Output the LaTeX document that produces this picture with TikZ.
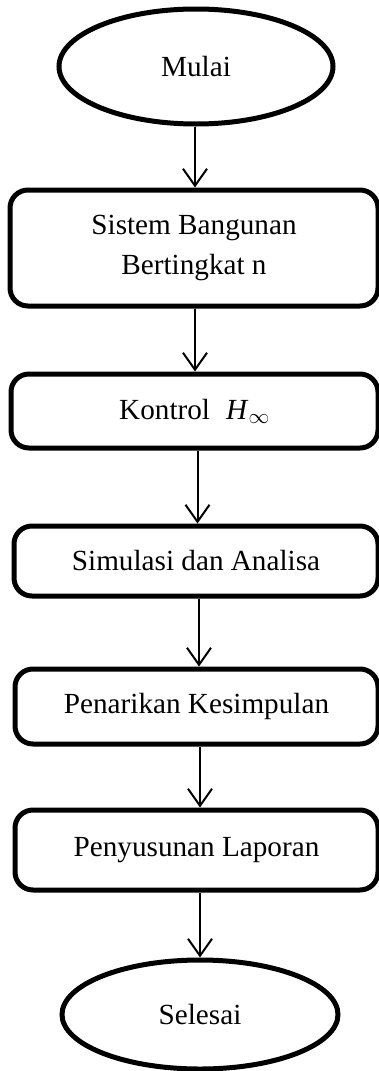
\documentclass[tikz,border=0pt]{standalone}
\usepackage{fontspec}
\setmainfont{Liberation Serif}
\usetikzlibrary{shapes.geometric,arrows.meta}
\begin{document}
\begin{tikzpicture}[x=1pt,y=-1pt,
  base/.style={draw=black,line width=5pt,inner sep=0pt,align=center,
    font=\fontsize{29.2}{40}\selectfont},
  term/.style={base,ellipse},
  proc/.style={base,rectangle,rounded corners=18pt},
  arr/.style={line width=2pt,-{Straight Barb[length=17pt,width=24pt,line width=2pt]}}]
\useasboundingbox (0,0) rectangle (378,1071);
\node[term,minimum width=274pt,minimum height=115pt] (mulai) at (196,66.5) {Mulai};
\node[proc,minimum width=368pt,minimum height=116pt] (sistem) at (194,248) {Sistem Bangunan\\Bertingkat n};
\node[proc,minimum width=367pt,minimum height=74pt] (kontrol) at (194.5,411) {Kontrol\hspace{0.55em}\textit{H}$_{\infty}$};
\node[proc,minimum width=364pt,minimum height=70pt] (simulasi) at (196,561) {Simulasi dan Analisa};
\node[proc,minimum width=363pt,minimum height=75pt] (penarikan) at (196.5,706.5) {Penarikan Kesimpulan};
\node[proc,minimum width=363pt,minimum height=80pt] (penyusunan) at (196.5,850) {Penyusunan Laporan};
\node[term,minimum width=276pt,minimum height=109pt] (selesai) at (200,1014.5) {Selesai};
\draw[arr] ([xshift=-1pt]mulai.south) -- ([xshift=-1pt]mulai.south |- sistem.north);
\draw[arr] ([xshift=1pt]sistem.south) -- ([xshift=1pt]sistem.south |- kontrol.north);
\draw[arr] ([xshift=3pt]kontrol.south) -- ([xshift=3pt]kontrol.south |- simulasi.north);
\draw[arr] ([xshift=3pt]simulasi.south) -- ([xshift=3pt]simulasi.south |- penarikan.north);
\draw[arr] ([xshift=3.5pt]penarikan.south) -- ([xshift=3.5pt]penarikan.south |- penyusunan.north);
\draw[arr] ([xshift=3.5pt]penyusunan.south) -- ([xshift=3.5pt]penyusunan.south |- selesai.north);
\end{tikzpicture}
\end{document}
